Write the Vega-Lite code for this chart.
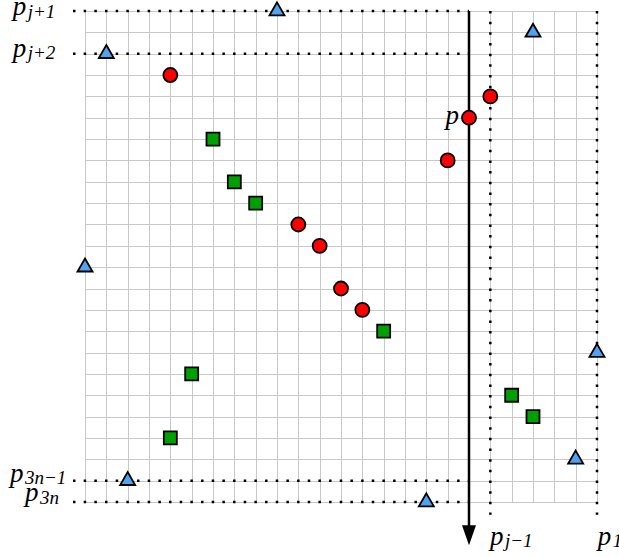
{
  "$schema": "https://vega.github.io/schema/vega-lite/v6.json",
  "autosize": {"type": "none"},
  "width": 512,
  "height": 491,
  "padding": {"left": 85, "top": 11, "right": 22, "bottom": 55},
  "background": "white",
  "config": {"view": {"stroke": null}},
  "encoding": {
    "x": {"field": "x", "type": "quantitative",
      "scale": {"domain": [0, 24], "nice": false, "zero": false},
      "axis": {"values": [0,1,2,3,4,5,6,7,8,9,10,11,12,13,14,15,16,17,18,19,20,21,22,23,24], "grid": true, "gridColor": "#c8c8c8", "gridWidth": 1, "labels": false, "ticks": false, "domain": false, "title": null}},
    "y": {"field": "y", "type": "quantitative",
      "scale": {"domain": [0, 23], "nice": false, "zero": false, "reverse": true},
      "axis": {"values": [0,1,2,3,4,5,6,7,8,9,10,11,12,13,14,15,16,17,18,19,20,21,22,23], "grid": true, "gridColor": "#c8c8c8", "gridWidth": 1, "labels": false, "ticks": false, "domain": false, "title": null}}
  },
  "layer": [
    {
      "data": {"values": [
        {"x": -0.5625, "x2": 18, "y": 0, "y2": 0},
        {"x": -0.5625, "x2": 18, "y": 2, "y2": 2},
        {"x": -0.5625, "x2": 18, "y": 22, "y2": 22},
        {"x": -0.5625, "x2": 18, "y": 23, "y2": 23},
        {"x": 19, "x2": 19, "y": 0, "y2": 23.6},
        {"x": 24, "x2": 24, "y": 0, "y2": 23.6}
      ]},
      "mark": {"type": "rule", "color": "black", "strokeWidth": 2.5, "strokeDash": [2.5, 8.17], "strokeCap": "butt"},
      "encoding": {"x2": {"field": "x2"}, "y2": {"field": "y2"}}
    },
    {
      "data": {"values": [{"x": 18, "x2": 18, "y": 0, "y2": 24.3}]},
      "mark": {"type": "rule", "color": "black", "strokeWidth": 2.5},
      "encoding": {"x2": {"field": "x2"}, "y2": {"field": "y2"}}
    },
    {
      "data": {"values": [{"x": 18, "y": 24.56}]},
      "mark": {"type": "point", "shape": "M-0.7,-1L0.7,-1L0,1Z", "size": 400, "filled": true, "color": "black", "opacity": 1}
    },
    {
      "data": {"values": [
        {"x": 9, "y": 0, "kind": "tri"},
        {"x": 1, "y": 2, "kind": "tri"},
        {"x": 21, "y": 1, "kind": "tri"},
        {"x": 0, "y": 12, "kind": "tri"},
        {"x": 24, "y": 16, "kind": "tri"},
        {"x": 23, "y": 21, "kind": "tri"},
        {"x": 2, "y": 22, "kind": "tri"},
        {"x": 16, "y": 23, "kind": "tri"},
        {"x": 4, "y": 3, "kind": "circ"},
        {"x": 19, "y": 4, "kind": "circ"},
        {"x": 18, "y": 5, "kind": "circ"},
        {"x": 17, "y": 7, "kind": "circ"},
        {"x": 10, "y": 10, "kind": "circ"},
        {"x": 11, "y": 11, "kind": "circ"},
        {"x": 12, "y": 13, "kind": "circ"},
        {"x": 13, "y": 14, "kind": "circ"},
        {"x": 6, "y": 6, "kind": "sq"},
        {"x": 7, "y": 8, "kind": "sq"},
        {"x": 8, "y": 9, "kind": "sq"},
        {"x": 14, "y": 15, "kind": "sq"},
        {"x": 5, "y": 17, "kind": "sq"},
        {"x": 4, "y": 20, "kind": "sq"},
        {"x": 20, "y": 18, "kind": "sq"},
        {"x": 21, "y": 19, "kind": "sq"}
      ]},
      "mark": {"type": "point", "filled": true, "stroke": "black", "strokeWidth": 1.8, "opacity": 1, "strokeOpacity": 1, "fillOpacity": 1},
      "encoding": {
        "shape": {"field": "kind", "type": "nominal", "legend": null,
          "scale": {"domain": ["tri", "circ", "sq"], "range": ["M0,-1.155L1,0.577L-1,0.577Z", "circle", "square"]}},
        "fill": {"field": "kind", "type": "nominal", "legend": null,
          "scale": {"domain": ["tri", "circ", "sq"], "range": ["#4fa3f0", "#ff0000", "#00a000"]}},
        "size": {"field": "kind", "type": "nominal", "legend": null,
          "scale": {"domain": ["tri", "circ", "sq"], "range": [225, 169, 169]}}
      }
    },
    {
      "data": {"name": "labels", "values": [
        {"x": -3.39, "y": 0.2, "m": "p", "s": "j+1"},
        {"x": -3.39, "y": 2.14, "m": "p", "s": "j+2"},
        {"x": -3.52, "y": 22.04, "m": "p", "s": "3n−1"},
        {"x": -2.81, "y": 22.97, "m": "p", "s": "3n"},
        {"x": 18.98, "y": 25.0, "m": "p", "s": "j−1"},
        {"x": 24.03, "y": 25.0, "m": "p", "s": "1"},
        {"x": 16.9, "y": 5.28, "m": "p", "s": ""}
      ]},
      "mark": {"type": "text", "align": "left", "baseline": "alphabetic", "font": "Liberation Serif", "fontStyle": "italic", "fontSize": 27, "color": "black"},
      "encoding": {"text": {"field": "m"}}
    },
    {
      "data": {"name": "labels"},
      "mark": {"type": "text", "align": "left", "baseline": "alphabetic", "font": "Liberation Serif", "fontStyle": "italic", "fontSize": 19, "color": "black", "dx": 15, "dy": 2.5},
      "encoding": {"text": {"field": "s"}}
    }
  ]
}
